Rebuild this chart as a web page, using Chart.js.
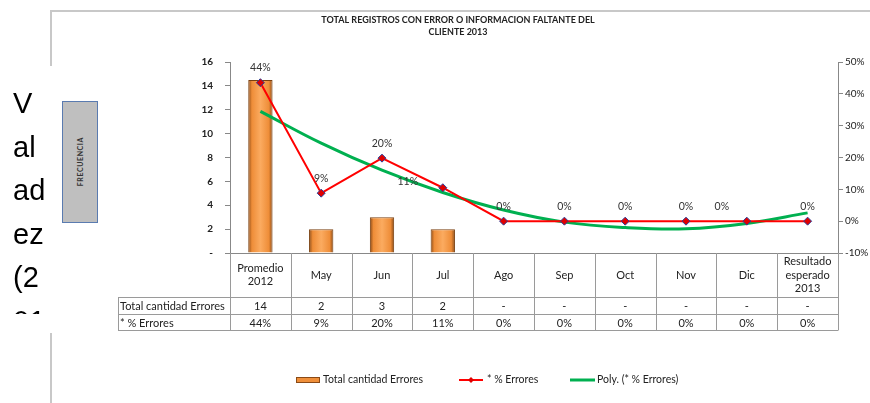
<!DOCTYPE html>
<html>
<head>
<meta charset="utf-8">
<title>Total registros con error</title>
<script src="https://cdn.jsdelivr.net/npm/chart.js@4.4.0/dist/chart.umd.min.js"></script>
<style>
  body { margin: 0; background: #fff; }
  #wrap { position: relative; width: 870px; height: 403px; overflow: hidden; }
  #grafico { position: absolute; left: 0; top: 0; }
  .linea { position: absolute; background: #c8c8c8; }
  #texto-lateral {
    position: absolute; left: 13px; top: 82px; height: 232px; overflow: hidden;
    font: 29px "Liberation Sans", Arial, sans-serif; line-height: 43.5px; color: #000;
  }
  #frecuencia {
    position: absolute; left: 62px; top: 101px; width: 34px; height: 120px;
    background: #bfbfbf; border: 1px solid #5a7bb0;
    display: flex; align-items: center; justify-content: center;
  }
  #frecuencia span {
    writing-mode: vertical-rl; transform: rotate(180deg);
    font: bold 7px Lato, sans-serif; letter-spacing: 0.6px; color: #333;
  }
</style>
</head>
<body>
<div id="wrap">
  <canvas id="grafico" width="870" height="403"></canvas>
  <div class="linea" style="left:50px; top:10px; width:820px; height:2px;"></div>
  <div class="linea" style="left:50px; top:10px; width:2px; height:56px;"></div>
  <div class="linea" style="left:50px; top:333px; width:2px; height:70px;"></div>
  <div id="texto-lateral">V<br>al<br>ad<br>ez<br>(2<br>01</div>
  <div id="frecuencia"><span>FRECUENCIA</span></div>
</div>
<script>
//Datos del grafico
var categorias = [["Promedio", "2012"], "May", "Jun", "Jul", "Ago", "Sep", "Oct", "Nov", "Dic", ["Resultado", "esperado", "2013"]];
var totalErrores = [14.5, 2, 3, 2, null, null, null, null, null, null];
var porcErrores = [43.5, 8.8, 19.8, 10.5, 0, 0, 0, 0, 0, 0];
var tendenciaPoly = [34.5, 24.5, 16, 9, 3.5, -0.3, -2, -2.4, -0.7, 2.6];
var filaTotal = ["14", "2", "3", "2", "-", "-", "-", "-", "-", "-"];
var tituloLineas = ["TOTAL REGISTROS CON ERROR O INFORMACION FALTANTE DEL", "CLIENTE 2013"];

var FUENTE = "Lato, 'Liberation Sans', sans-serif";
Chart.defaults.font.family = FUENTE;
Chart.defaults.color = "#333";

//Degradado horizontal de cada barra (bordes oscuros, centro claro)
function degradadoBarra(c) {
  var chart = c.chart;
  var xs = chart.scales.x;
  if (!xs || c.dataIndex === undefined) return "#F79646";
  var cx = xs.getPixelForValue(c.dataIndex);
  var w = xs.width / categorias.length * 0.4 / 2;
  if (!isFinite(cx) || !isFinite(w) || w <= 0) return "#F79646";
  var g = chart.ctx.createLinearGradient(cx - w, 0, cx + w, 0);
  g.addColorStop(0, "#8a4a16");
  g.addColorStop(0.15, "#ee8d38");
  g.addColorStop(0.5, "#fbab60");
  g.addColorStop(0.85, "#ee8d38");
  g.addColorStop(1, "#8a4a16");
  return g;
}

//Tabla de datos, etiquetas, leyenda y titulo
var tablaPlugin = {
  id: "tabla",
  afterDraw: function(chart) {
    var ctx = chart.ctx;
    var a = chart.chartArea;
    var x = chart.scales.x;
    var n = categorias.length;
    var ancho = (a.right - a.left) / n;
    var yFila1 = a.bottom + 44, yFila2 = a.bottom + 61, yFin = a.bottom + 77;
    var xIzq = 118;

    ctx.save();
    //lineas de la tabla
    ctx.strokeStyle = "#9a9a9a";
    ctx.lineWidth = 1;
    ctx.beginPath();
    [yFila1, yFila2, yFin].forEach(function(y) {
      ctx.moveTo(xIzq, Math.round(y) + 0.5);
      ctx.lineTo(a.right, Math.round(y) + 0.5);
    });
    for (var i = 0; i <= n; i++) {
      var xl = Math.round(a.left + i * ancho) + 0.5;
      ctx.moveTo(xl, a.bottom);
      ctx.lineTo(xl, yFin + 0.5);
    }
    ctx.moveTo(xIzq + 0.5, yFila1);
    ctx.lineTo(xIzq + 0.5, yFin + 0.5);
    ctx.stroke();

    //categorias y valores
    ctx.fillStyle = "#222";
    ctx.font = "11px " + FUENTE;
    ctx.textAlign = "center";
    ctx.textBaseline = "middle";
    categorias.forEach(function(cat, i) {
      var cx = x.getPixelForValue(i);
      var lineas = Array.isArray(cat) ? cat : [cat];
      var y0 = a.bottom + 22 - (lineas.length - 1) * 13.5 / 2;
      lineas.forEach(function(t, k) { ctx.fillText(t, cx, y0 + k * 13.5); });
      ctx.fillText(filaTotal[i], cx, (yFila1 + yFila2) / 2 + 1);
      ctx.fillText(Math.round(porcErrores[i]) + "%", cx, (yFila2 + yFin) / 2 + 1);
    });
    ctx.textAlign = "left";
    ctx.fillText("Total cantidad Errores", xIzq + 2, (yFila1 + yFila2) / 2 + 1);
    ctx.fillText("* % Errores", xIzq + 2, (yFila2 + yFin) / 2 + 1);

    //etiquetas de porcentaje sobre los puntos
    var meta = chart.getDatasetMeta(0);
    var ajuste = {3: [-35, 9], 8: [-25, 0]};
    ctx.textAlign = "center";
    ctx.fillStyle = "#333";
    ctx.font = "10.5px " + FUENTE;
    meta.data.forEach(function(p, i) {
      var d = ajuste[i] || [0, 0];
      ctx.fillText(Math.round(porcErrores[i]) + "%", p.x + d[0], p.y - 15 + d[1]);
    });

    //leyenda
    var yl = 380;
    ctx.fillStyle = "#ef8f3a";
    ctx.strokeStyle = "#8a4a16";
    ctx.fillRect(296, yl - 3, 24, 6);
    ctx.strokeRect(296.5, yl - 2.5, 23, 5);
    ctx.strokeStyle = "#ff0000";
    ctx.lineWidth = 2;
    ctx.beginPath(); ctx.moveTo(459, yl); ctx.lineTo(483, yl); ctx.stroke();
    ctx.fillStyle = "#e00000";
    ctx.beginPath();
    ctx.moveTo(471, yl - 3); ctx.lineTo(474, yl); ctx.lineTo(471, yl + 3); ctx.lineTo(468, yl);
    ctx.closePath(); ctx.fill();
    ctx.strokeStyle = "#00b050";
    ctx.lineWidth = 3;
    ctx.beginPath(); ctx.moveTo(570, yl); ctx.lineTo(595, yl); ctx.stroke();
    ctx.fillStyle = "#222";
    ctx.font = "10.5px " + FUENTE;
    ctx.textAlign = "left";
    ctx.fillText("Total cantidad Errores", 323, yl);
    ctx.fillText("* % Errores", 487, yl);
    ctx.fillText("Poly. (* % Errores)", 597, yl);

    //titulo
    ctx.font = "bold 9px " + FUENTE;
    ctx.textAlign = "center";
    ctx.fillText(tituloLineas[0], 458, 20);
    ctx.fillText(tituloLineas[1], 458, 32);
    ctx.restore();
  }
};

var ctx = document.getElementById("grafico").getContext("2d");
var grafico = new Chart(ctx, {
  type: "bar",
  data: {
    labels: categorias,
    datasets: [
      {
        type: "line",
        label: "* % Errores",
        data: porcErrores,
        yAxisID: "y1",
        borderColor: "#ff0000",
        borderWidth: 2,
        pointStyle: "rectRot",
        pointRadius: 4,
        pointBackgroundColor: "#e00000",
        pointBorderColor: "#2a3f9a",
        pointBorderWidth: 1,
        tension: 0,
        order: 1
      },
      {
        type: "line",
        label: "Poly. (* % Errores)",
        data: tendenciaPoly,
        yAxisID: "y1",
        borderColor: "#00b050",
        borderWidth: 3,
        pointRadius: 0,
        tension: 0.4,
        order: 2
      },
      {
        type: "bar",
        label: "Total cantidad Errores",
        data: totalErrores,
        yAxisID: "y",
        backgroundColor: degradadoBarra,
        borderColor: "#7a4010",
        borderWidth: 1,
        barPercentage: 0.4,
        categoryPercentage: 1,
        order: 3
      }
    ]
  },
  options: {
    responsive: false,
    animation: false,
    devicePixelRatio: 1,
    layout: { padding: { left: 190, right: 0, top: 62, bottom: 150 } },
    plugins: { legend: { display: false }, tooltip: { enabled: false } },
    scales: {
      x: {
        offset: true,
        grid: { display: false },
        ticks: { display: false },
        border: { color: "#888" },
        afterFit: function(s) { s.height = 0; }
      },
      y: {
        position: "left",
        min: 0,
        max: 16,
        ticks: {
          stepSize: 2,
          padding: 12,
          color: "#222",
          font: { size: 10, weight: "bold" },
          callback: function(v) { return v === 0 ? "-" : v; }
        },
        grid: { drawOnChartArea: false, tickLength: 5, color: "#888" },
        border: { color: "#888" },
        afterFit: function(s) { s.width = 40; }
      },
      y1: {
        position: "right",
        min: -10,
        max: 50,
        ticks: {
          stepSize: 10,
          padding: 2,
          color: "#222",
          font: { size: 10 },
          callback: function(v) { return v + "%"; }
        },
        grid: { drawOnChartArea: false, tickLength: 5, color: "#888" },
        border: { color: "#888" },
        afterFit: function(s) { s.width = 32; }
      }
    }
  },
  plugins: [tablaPlugin]
});
</script>
</body>
</html>
